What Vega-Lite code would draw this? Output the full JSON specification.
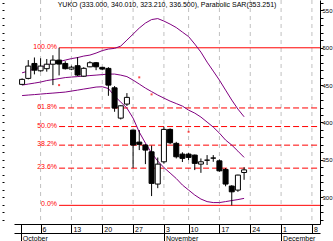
{
  "$schema": "https://vega.github.io/schema/vega-lite/v6.json",
  "width": 306,
  "height": 224,
  "autosize": {"type": "none"},
  "padding": {"left": 14, "top": 0, "right": 13, "bottom": 17},
  "background": "white",
  "config": {
    "view": {"stroke": null},
    "axis": {"labelFont": "Liberation Sans", "labelFontSize": 7, "labelColor": "black", "domainColor": "black", "tickColor": "black", "grid": false}
  },
  "title": {"text": "YUKO (333.000, 340.010, 323.210, 336.500), Parabolic SAR(353.251)", "font": "Liberation Sans", "fontSize": 7, "fontWeight": "normal", "color": "black", "anchor": "middle", "offset": 0, "dy": 15, "baseline": "bottom"},
  "datasets": {
    "weeks": [
      {"i": 3, "date": "2003-10-06"}, {"i": 8, "date": "2003-10-13"}, {"i": 13, "date": "2003-10-20"},
      {"i": 18, "date": "2003-10-27"}, {"i": 23, "date": "2003-11-04"}, {"i": 27, "date": "2003-11-10"},
      {"i": 32, "date": "2003-11-17"}, {"i": 37, "date": "2003-11-24"}, {"i": 42, "date": "2003-12-01"},
      {"i": 47, "date": "2003-12-08"}
    ],
    "fib": [
      {"i": 6, "pct": 100, "v": 500, "label": "100.0%"},
      {"i": 6, "pct": 61.8, "v": 419.4, "label": "61.8%"},
      {"i": 6, "pct": 50, "v": 394.5, "label": "50.0%"},
      {"i": 6, "pct": 38.2, "v": 369.6, "label": "38.2%"},
      {"i": 6, "pct": 23.6, "v": 338.8, "label": "23.6%"},
      {"i": 6, "pct": 0, "v": 289, "label": "0.0%"}
    ],
    "candles": [
      {"i": 0, "open": 451.0, "high": 459, "low": 450, "close": 457.7},
      {"i": 1, "open": 459, "high": 483.5, "low": 457.7, "close": 475.5},
      {"i": 2, "open": 479, "high": 487, "low": 464.4, "close": 470},
      {"i": 3, "open": 469.2, "high": 486, "low": 468, "close": 475.5},
      {"i": 4, "open": 472, "high": 485, "low": 468, "close": 478},
      {"i": 5, "open": 478, "high": 490, "low": 450, "close": 483.5},
      {"i": 6, "open": 483.5, "high": 500, "low": 463, "close": 478.2},
      {"i": 7, "open": 479, "high": 482, "low": 471, "close": 472},
      {"i": 8, "open": 471.5, "high": 476, "low": 470, "close": 474},
      {"i": 9, "open": 476, "high": 487.5, "low": 462, "close": 463.5},
      {"i": 10, "open": 462, "high": 474, "low": 461, "close": 472.5},
      {"i": 11, "open": 474.5, "high": 482, "low": 474, "close": 480},
      {"i": 12, "open": 480, "high": 481, "low": 470, "close": 474.5},
      {"i": 13, "open": 473.8, "high": 474.5, "low": 470, "close": 471.5},
      {"i": 14, "open": 472.4, "high": 474, "low": 435.7, "close": 450},
      {"i": 15, "open": 446.4, "high": 448.7, "low": 414.3, "close": 419.2},
      {"i": 16, "open": 405.8, "high": 423, "low": 404, "close": 422.3},
      {"i": 17, "open": 424.6, "high": 439.3, "low": 422, "close": 433.6},
      {"i": 18, "open": 389.8, "high": 390, "low": 339, "close": 369.7},
      {"i": 19, "open": 373.7, "high": 389.8, "low": 363, "close": 370.7},
      {"i": 20, "open": 369.7, "high": 371, "low": 344.2, "close": 363},
      {"i": 21, "open": 360.7, "high": 369, "low": 301.4, "close": 318.4},
      {"i": 22, "open": 317.5, "high": 353, "low": 312, "close": 344.2},
      {"i": 23, "open": 347.3, "high": 394.2, "low": 345, "close": 390.7},
      {"i": 24, "open": 390.7, "high": 392, "low": 371, "close": 372.8},
      {"i": 25, "open": 372, "high": 374, "low": 351.8, "close": 354},
      {"i": 26, "open": 357.6, "high": 360, "low": 347, "close": 351.9},
      {"i": 27, "open": 357.6, "high": 359, "low": 349.6, "close": 353.2},
      {"i": 28, "open": 356.3, "high": 357, "low": 336.2, "close": 345.2},
      {"i": 29, "open": 344.2, "high": 351.8, "low": 332.5, "close": 347.3},
      {"i": 30, "open": 349.5, "high": 356.3, "low": 343, "close": 349.5},
      {"i": 31, "open": 352.3, "high": 356.3, "low": 347.3, "close": 352.3},
      {"i": 32, "open": 348.6, "high": 350.5, "low": 334, "close": 335.2},
      {"i": 33, "open": 337.1, "high": 339, "low": 314.5, "close": 317.5},
      {"i": 34, "open": 314.8, "high": 316, "low": 289, "close": 307.1},
      {"i": 35, "open": 309.4, "high": 330, "low": 307.1, "close": 329.5},
      {"i": 36, "open": 333, "high": 340.01, "low": 323.21, "close": 336.5}
    ],
    "bands": [
      {"i": 0, "upper": 466.5, "middle": 450.0, "lower": 436.0},
      {"i": 1, "upper": 468.8, "middle": 451.4, "lower": 436.7},
      {"i": 2, "upper": 471.5, "middle": 452.7, "lower": 437.3},
      {"i": 3, "upper": 474.2, "middle": 454.1, "lower": 438.0},
      {"i": 4, "upper": 476.8, "middle": 456.1, "lower": 438.7},
      {"i": 5, "upper": 479.5, "middle": 457.4, "lower": 439.3},
      {"i": 6, "upper": 481.5, "middle": 458.7, "lower": 440.0},
      {"i": 7, "upper": 483.5, "middle": 460.1, "lower": 440.7},
      {"i": 8, "upper": 485.5, "middle": 460.8, "lower": 442.0},
      {"i": 9, "upper": 486.9, "middle": 461.4, "lower": 443.3},
      {"i": 10, "upper": 488.9, "middle": 462.1, "lower": 444.7},
      {"i": 11, "upper": 490.2, "middle": 462.8, "lower": 446.0},
      {"i": 12, "upper": 492.9, "middle": 463.4, "lower": 447.4},
      {"i": 13, "upper": 496.2, "middle": 464.1, "lower": 447.8},
      {"i": 14, "upper": 498.3, "middle": 464.8, "lower": 445.4},
      {"i": 15, "upper": 499.2, "middle": 464.8, "lower": 435.3},
      {"i": 16, "upper": 502.3, "middle": 463.4, "lower": 427.3},
      {"i": 17, "upper": 510.3, "middle": 461.4, "lower": 419.2},
      {"i": 18, "upper": 518.3, "middle": 456.7, "lower": 405.8},
      {"i": 19, "upper": 526.4, "middle": 451.4, "lower": 387.1},
      {"i": 20, "upper": 533.1, "middle": 446.0, "lower": 372.4},
      {"i": 21, "upper": 537.8, "middle": 441.3, "lower": 359.0},
      {"i": 22, "upper": 539.1, "middle": 436.7, "lower": 348.3},
      {"i": 23, "upper": 535.8, "middle": 432.6, "lower": 339.6},
      {"i": 24, "upper": 531.7, "middle": 428.6, "lower": 332.3},
      {"i": 25, "upper": 527.1, "middle": 425.3, "lower": 324.9},
      {"i": 26, "upper": 521.0, "middle": 421.9, "lower": 316.2},
      {"i": 27, "upper": 515.0, "middle": 416.5, "lower": 309.5},
      {"i": 28, "upper": 505.0, "middle": 412.5, "lower": 302.8},
      {"i": 29, "upper": 494.2, "middle": 407.2, "lower": 297.4},
      {"i": 30, "upper": 480.8, "middle": 400.5, "lower": 294.0},
      {"i": 31, "upper": 468.8, "middle": 393.8, "lower": 292.7},
      {"i": 32, "upper": 456.7, "middle": 385.7, "lower": 292.7},
      {"i": 33, "upper": 443.3, "middle": 376.4, "lower": 294.0},
      {"i": 34, "upper": 430.0, "middle": 369.7, "lower": 295.4},
      {"i": 35, "upper": 417.9, "middle": 361.6, "lower": 296.7},
      {"i": 36, "upper": 407.6, "middle": 353.25, "lower": 298.3}
    ],
    "sar": [
      {"i": 6, "v": 450},
      {"i": 19, "v": 460.4},
      {"i": 21, "v": 437.6},
      {"i": 27, "v": 387.5}
    ]
  },
  "layer": [
    {
      "data": {"name": "weeks"},
      "mark": {"type": "rule", "color": "#c0c0c0", "strokeDash": [4, 4], "strokeWidth": 1},
      "encoding": {
        "x": {"field": "i", "type": "quantitative", "scale": {"domain": [-0.5, 47.5], "nice": false, "zero": false},
          "axis": {"orient": "bottom", "title": null, "values": [-0.2, 3, 8, 13, 18, 23, 27, 32, 37, 42, 47],
            "labelExpr": "['6','13','20','27','3','10','17','24','1','8'][indexof([3,8,13,18,23,27,32,37,42,47], datum.value)] || ''",
            "tickSize": 9, "labelAlign": "left", "labelBaseline": "top", "labelPadding": -8, "labelOffset": 1.5,
            "labelOverlap": false, "labelFlush": false, "labelBound": false, "minExtent": 9, "maxExtent": 9}}
      }
    },
    {
      "data": {"name": "fib"},
      "transform": [{"filter": "datum.pct == 100 || datum.pct == 0"}],
      "mark": {"type": "rule", "color": "#ff0000", "strokeWidth": 1},
      "encoding": {
        "x": {"field": "i", "type": "quantitative", "scale": {"domain": [-0.5, 47.5], "nice": false, "zero": false}, "axis": null},
        "x2": {"value": "width"},
        "y": {"field": "v", "type": "quantitative", "scale": {"domain": [264, 564], "nice": false, "zero": false},
          "axis": {"orient": "left", "title": null, "labels": false, "domain": false, "tickSize": 2, "offset": 10,
            "values": [270, 280, 290, 300, 310, 320, 330, 340, 350, 360, 370, 380, 390, 400, 410, 420, 430, 440, 450, 460, 470, 480, 490, 500, 510, 520, 530, 540, 550, 560]}}
      }
    },
    {
      "data": {"name": "fib"},
      "transform": [{"filter": "datum.pct != 100 && datum.pct != 0"}],
      "mark": {"type": "rule", "color": "#ff0000", "strokeWidth": 1, "strokeDash": [6, 3]},
      "encoding": {
        "x": {"field": "i", "type": "quantitative", "scale": {"domain": [-0.5, 47.5], "nice": false, "zero": false}, "axis": null},
        "x2": {"value": "width"},
        "y": {"field": "v", "type": "quantitative", "scale": {"domain": [264, 564], "nice": false, "zero": false}, "axis": null}
      }
    },
    {
      "data": {"name": "fib"},
      "mark": {"type": "text", "align": "right", "baseline": "middle", "dx": -2, "dy": -1, "color": "#ff0000", "fontSize": 7, "font": "Liberation Sans"},
      "encoding": {
        "x": {"field": "i", "type": "quantitative", "scale": {"domain": [-0.5, 47.5], "nice": false, "zero": false}, "axis": null},
        "y": {"field": "v", "type": "quantitative", "scale": {"domain": [264, 564], "nice": false, "zero": false}, "axis": null},
        "text": {"field": "label"}
      }
    },
    {
      "data": {"name": "bands"},
      "transform": [{"fold": ["upper", "middle", "lower"], "as": ["band", "v"]}],
      "mark": {"type": "line", "color": "#800080", "strokeWidth": 1},
      "encoding": {
        "x": {"field": "i", "type": "quantitative", "scale": {"domain": [-0.5, 47.5], "nice": false, "zero": false},
          "axis": {"orient": "bottom", "offset": 9, "title": null, "values": [-0.2, 23, 42],
            "labelExpr": "datum.value < 0 ? 'October' : (datum.value < 30 ? 'November' : 'December')",
            "tickSize": 8, "labelAlign": "left", "labelBaseline": "top", "labelPadding": -7, "labelOffset": 1.5,
            "labelOverlap": false, "labelFlush": false, "labelBound": false}},
        "y": {"field": "v", "type": "quantitative", "scale": {"domain": [264, 564], "nice": false, "zero": false}, "axis": null},
        "detail": {"field": "band"}
      }
    },
    {
      "data": {"name": "candles"},
      "mark": {"type": "rule", "color": "black", "strokeWidth": 1},
      "encoding": {
        "x": {"field": "i", "type": "quantitative", "scale": {"domain": [-0.5, 47.5], "nice": false, "zero": false}, "axis": null},
        "y": {"field": "low", "type": "quantitative", "scale": {"domain": [264, 564], "nice": false, "zero": false},
          "axis": {"orient": "right", "title": null, "tickSize": 3, "labelPadding": -1, "labelFontSize": 6,
            "values": [270, 280, 290, 300, 310, 320, 330, 340, 350, 360, 370, 380, 390, 400, 410, 420, 430, 440, 450, 460, 470, 480, 490, 500, 510, 520, 530, 540, 550, 560],
            "labelExpr": "datum.value % 50 === 0 ? datum.label : ''", "labelOverlap": false, "labelBaseline": "middle"}},
        "y2": {"field": "high"}
      }
    },
    {
      "data": {"name": "candles"},
      "mark": {"type": "bar", "size": 5, "stroke": "black", "strokeWidth": 1, "orient": "vertical"},
      "encoding": {
        "x": {"field": "i", "type": "quantitative", "scale": {"domain": [-0.5, 47.5], "nice": false, "zero": false}, "axis": null},
        "y": {"field": "open", "type": "quantitative", "scale": {"domain": [264, 564], "nice": false, "zero": false}, "axis": null},
        "y2": {"field": "close"},
        "fill": {"condition": {"test": "datum.close > datum.open", "value": "white"}, "value": "black"}
      }
    },
    {
      "data": {"name": "sar"},
      "mark": {"type": "square", "size": 4, "color": "#ff0000", "filled": true},
      "encoding": {
        "x": {"field": "i", "type": "quantitative", "scale": {"domain": [-0.5, 47.5], "nice": false, "zero": false}, "axis": null},
        "y": {"field": "v", "type": "quantitative", "scale": {"domain": [264, 564], "nice": false, "zero": false}, "axis": null}
      }
    }
  ],
  "resolve": {"axis": {"x": "independent", "y": "independent"}}
}
